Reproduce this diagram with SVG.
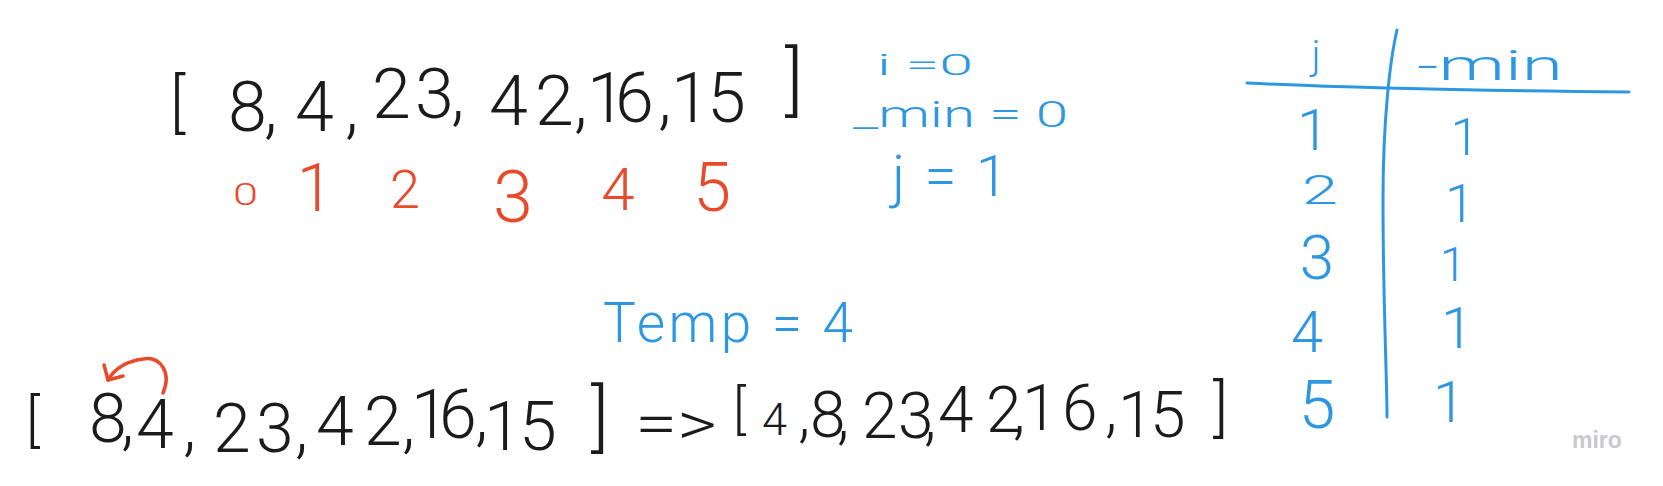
<svg xmlns="http://www.w3.org/2000/svg" width="1663" height="486" viewBox="0 0 1663 486">
<style>
text{font-family:Roboto,"Liberation Sans",Arial,sans-serif;font-weight:300}
.k{fill:#1b1b1b}
.r{fill:#e84a2b}
.b{fill:#2e97e2}
.ln{fill:none;stroke:#2e97e2;stroke-width:3;stroke-linecap:round}
.arr{fill:none;stroke:#e84a2b;stroke-width:3.5;stroke-linecap:round;stroke-linejoin:round}
.c{text-anchor:middle}
</style>
<defs>
<marker id="head" markerUnits="userSpaceOnUse" markerWidth="30" markerHeight="30" refX="15" refY="15" orient="auto" viewBox="0 0 30 30">
<path d="M4,4 L15,15 L4,26" fill="none" stroke="#e84a2b" stroke-width="3.5" stroke-linecap="round" stroke-linejoin="round"/>
</marker>
</defs>
<rect width="1663" height="486" fill="#ffffff"/>

<g id="top-array">
<text class="k" font-size="70"><tspan x="170" y="125" font-size="64">[</tspan><tspan x="228 264 295 345 372 415 451 489 535 574 587 615 658 671 707" y="131 131 131 131 118 118 118 125 125 125 122 122 122 122 122">8,4,23,42,16,15</tspan><tspan x="785" y="106" font-size="76">]</tspan></text>
</g>

<g id="indices">
<text class="r" x="233" y="205" font-size="32" textLength="25" lengthAdjust="spacingAndGlyphs">0</text>
<text class="r c" x="315" y="211" font-size="66">1</text>
<text class="r c" x="405" y="208" font-size="54">2</text>
<text class="r c" x="513" y="222" font-size="72">3</text>
<text class="r c" x="618" y="210" font-size="60">4</text>
<text class="r c" x="712" y="211" font-size="68">5</text>
</g>

<g id="variables">
<text class="b" x="877" y="75" font-size="30" textLength="96" lengthAdjust="spacingAndGlyphs">i =0</text>
<text class="b" x="853" y="127" font-size="36" textLength="215" lengthAdjust="spacingAndGlyphs">_min = 0</text>
<text class="b" x="892" y="196" font-size="58" textLength="116" lengthAdjust="spacing">j = 1</text>
</g>

<g id="table">
<path class="ln" d="M1247,83 Q1390,90 1629,92"/>
<path class="ln" d="M1397,30 C1390,60 1383,120 1383,200 C1383,300 1387,380 1387,417"/>
<text class="b c" x="1316" y="69" font-size="40">j</text>
<text class="b" x="1417" y="80" font-size="42" textLength="146" lengthAdjust="spacingAndGlyphs">-min</text>
<text class="b c" x="1313" y="150" font-size="58">1</text>
<text class="b" x="1302" y="204" font-size="40" textLength="36" lengthAdjust="spacingAndGlyphs">2</text>
<text class="b c" x="1317" y="279" font-size="62">3</text>
<text class="b c" x="1307" y="352" font-size="58">4</text>
<text class="b c" x="1317" y="428" font-size="66">5</text>
<text class="b c" x="1465" y="155" font-size="52">1</text>
<text class="b c" x="1460" y="222" font-size="54">1</text>
<text class="b c" x="1453" y="281" font-size="48">1</text>
<text class="b c" x="1457" y="348" font-size="58">1</text>
<text class="b c" x="1449" y="422" font-size="58">1</text>
</g>

<g id="temp">
<text class="b" x="603" y="342" font-size="55" textLength="250" lengthAdjust="spacing">Temp = 4</text>
</g>

<g id="bottom-array">
<text class="k" font-size="68"><tspan x="26" y="440" font-size="58">[</tspan><tspan x="89 121 136 183 213 256 295 316 364 402 411 439 475 484 519" y="442 442 448 448 452 452 450 445 445 445 438 438 438 450 450">8,4,23,42,16,15</tspan><tspan x="591" y="443" font-size="75">]</tspan></text>
</g>

<g id="implies">
<text class="k" x="635" y="445" font-size="62" textLength="82" lengthAdjust="spacingAndGlyphs">=&gt;</text>
</g>

<g id="result-array">
<text class="k" font-size="64"><tspan x="733" y="428" font-size="54">[</tspan><tspan x="762" y="435" font-size="45">4</tspan><tspan x="798 810 837 862 898 924 938 986 1013 1022 1062 1105 1118 1150" y="435 437 437 438 438 438 432 432 432 430 430 430 437 437">,8,23,42,16,15</tspan><tspan x="1213" y="429" font-size="63">]</tspan></text>
</g>

<g id="connectors">
<path class="arr" d="M163,393 C172,372 160,356 143,359 C128,361 115,368 108,380" marker-end="url(#head)"/>
</g>

<g id="logo">
<text x="1572" y="448" font-size="23" fill="#c8c8d2" style="font-family:'Liberation Sans',Arial,sans-serif;font-weight:700">miro</text>
</g>
</svg>
